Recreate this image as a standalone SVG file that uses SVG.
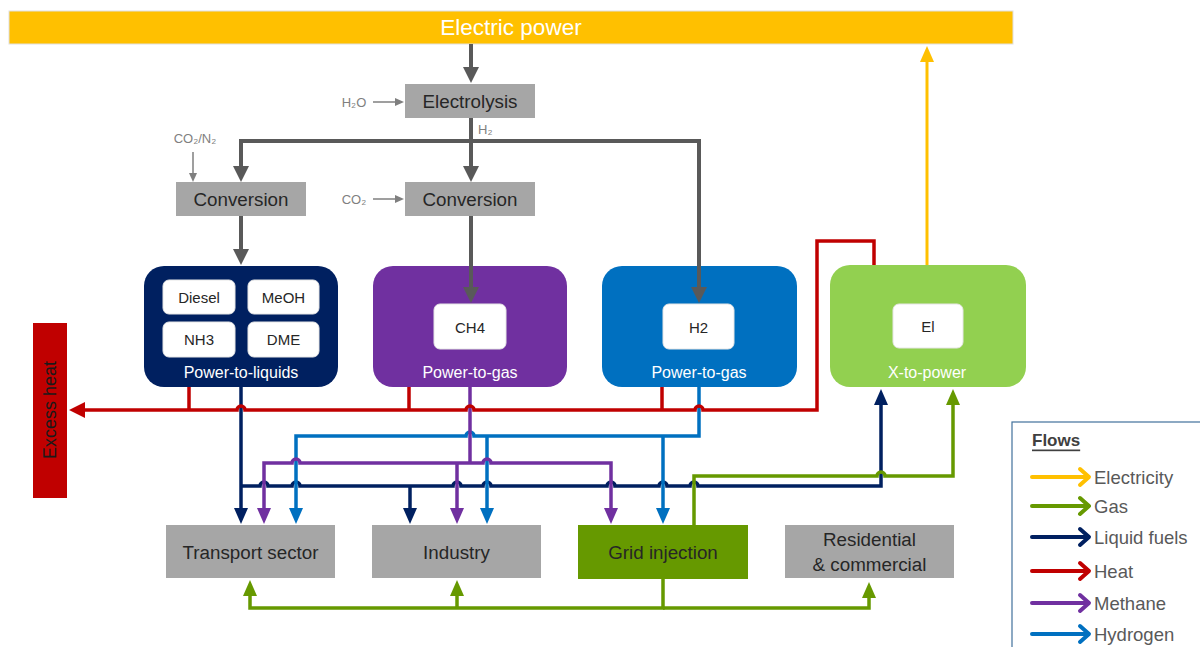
<svg xmlns="http://www.w3.org/2000/svg" width="1200" height="647" viewBox="0 0 1200 647">
<style>
text{font-family:"Liberation Sans",Arial,sans-serif;dominant-baseline:central;text-anchor:middle}
.t17{font-size:18.8px;fill:#262626}
.w{fill:#ffffff}
.in{font-size:15px;fill:#262626}
.lab{font-size:13px;fill:#7f7f7f}
.grey{fill:#A6A6A6}
.inner{fill:#ffffff;stroke:#e6e6e6;stroke-width:1}
.c{fill:none;stroke-linejoin:miter}
.g{stroke:#595959;stroke-width:4}
.tg{stroke:#7f7f7f;stroke-width:1.5}
.y{stroke:#FFC000;stroke-width:3}
.r{stroke:#C00000;stroke-width:3.5}
.n{stroke:#002060;stroke-width:3.5}
.p{stroke:#7030A0;stroke-width:3.5}
.b{stroke:#0070C0;stroke-width:3.5}
.gr{stroke:#669900;stroke-width:3.5}
.leg{fill:none;stroke-width:4;stroke-linecap:round;stroke-linejoin:round}
.lt{font-size:18.5px;fill:#595959;text-anchor:start}
.ptx{font-size:16px;fill:#ffffff}
</style>
<defs>
<marker id="aG" markerUnits="userSpaceOnUse" markerWidth="16" markerHeight="16" viewBox="0 0 16 16" refX="1" refY="8" orient="auto"><path d="M0,0 L16,8 L0,16z" fill="#595959"/></marker>
<marker id="aT" markerUnits="userSpaceOnUse" markerWidth="9" markerHeight="8" viewBox="0 0 9 8" refX="1" refY="4" orient="auto"><path d="M0,0 L9,4 L0,8z" fill="#7f7f7f"/></marker>
<marker id="aY" markerUnits="userSpaceOnUse" markerWidth="16" markerHeight="16" viewBox="0 0 16 16" refX="1" refY="8" orient="auto"><path d="M0,1 L16,8 L0,15z" fill="#FFC000"/></marker>
<marker id="aR" markerUnits="userSpaceOnUse" markerWidth="16" markerHeight="16" viewBox="0 0 16 16" refX="1" refY="8" orient="auto"><path d="M0,0 L16,8 L0,16z" fill="#C00000"/></marker>
<marker id="aN" markerUnits="userSpaceOnUse" markerWidth="16" markerHeight="16" viewBox="0 0 16 16" refX="1" refY="8" orient="auto"><path d="M0,1 L16,8 L0,15z" fill="#002060"/></marker>
<marker id="aP" markerUnits="userSpaceOnUse" markerWidth="16" markerHeight="16" viewBox="0 0 16 16" refX="1" refY="8" orient="auto"><path d="M0,1 L16,8 L0,15z" fill="#7030A0"/></marker>
<marker id="aB" markerUnits="userSpaceOnUse" markerWidth="16" markerHeight="16" viewBox="0 0 16 16" refX="1" refY="8" orient="auto"><path d="M0,1 L16,8 L0,15z" fill="#0070C0"/></marker>
<marker id="aGr" markerUnits="userSpaceOnUse" markerWidth="16" markerHeight="16" viewBox="0 0 16 16" refX="1" refY="8" orient="auto"><path d="M0,1 L16,8 L0,15z" fill="#669900"/></marker>
</defs>
<rect width="1200" height="647" fill="#ffffff"/>

<g id="electric-power">
<rect x="9" y="11" width="1004" height="33" fill="#FFC000" stroke="#e0e0e0" stroke-width="1"/>
<text x="511" y="27.5" class="w" style="font-size:22.5px">Electric power</text>
</g>
<g id="electrolysis">
<rect x="405" y="84" width="130" height="34" class="grey"/>
<text x="470" y="101" class="t17">Electrolysis</text>
</g>
<g id="conversion-1">
<rect x="176" y="182" width="130" height="34" class="grey"/>
<text x="241" y="199" class="t17">Conversion</text>
</g>
<g id="conversion-2">
<rect x="405" y="182" width="130" height="34" class="grey"/>
<text x="470" y="199" class="t17">Conversion</text>
</g>
<g id="labels">
<text x="354" y="102" class="lab">H₂O</text>
<text x="354" y="199" class="lab">CO₂</text>
<text x="195" y="138" class="lab">CO₂/N₂</text>
<text x="478" y="129" class="lab" style="text-anchor:start">H₂</text>
</g>

<g id="power-to-liquids">
<rect x="144" y="266" width="194" height="121" rx="20" fill="#002060"/>
<rect x="163" y="280" width="72" height="34" rx="6" class="inner"/>
<rect x="248" y="280" width="71" height="34" rx="6" class="inner"/>
<rect x="163" y="322" width="72" height="35" rx="6" class="inner"/>
<rect x="248" y="322" width="71" height="35" rx="6" class="inner"/>
<text x="199" y="297" class="in">Diesel</text>
<text x="283.5" y="297" class="in">MeOH</text>
<text x="199" y="339.5" class="in">NH3</text>
<text x="283.5" y="339.5" class="in">DME</text>
<text x="241" y="372" class="ptx">Power-to-liquids</text>
</g>
<g id="power-to-gas-ch4">
<rect x="373" y="266" width="194" height="121" rx="20" fill="#7030A0"/>
<rect x="434" y="304" width="72" height="45" rx="6" class="inner"/>
<text x="470" y="327" class="in">CH4</text>
<text x="470" y="372" class="ptx">Power-to-gas</text>
</g>
<g id="power-to-gas-h2">
<rect x="602" y="266" width="195" height="121" rx="20" fill="#0070C0"/>
<rect x="663" y="304" width="71" height="45" rx="6" class="inner"/>
<text x="698.5" y="327" class="in">H2</text>
<text x="699" y="372" class="ptx">Power-to-gas</text>
</g>
<g id="x-to-power">
<rect x="830" y="265" width="196" height="122" rx="20" fill="#92D050"/>
<rect x="893" y="304" width="70" height="44" rx="6" class="inner"/>
<text x="928" y="326" class="in">El</text>
<text x="927" y="372" class="ptx">X-to-power</text>
</g>
<g id="excess-heat">
<rect x="33" y="323" width="34" height="175" fill="#C00000"/>
<text x="0" y="0" transform="translate(50,410) rotate(-90)" style="font-size:18px;fill:#1a1a1a">Excess heat</text>
</g>
<g id="transport-sector">
<rect x="166" y="525" width="169" height="53" class="grey"/>
<text x="250.5" y="552" class="t17">Transport sector</text>
</g>
<g id="industry">
<rect x="372" y="525" width="169" height="53" class="grey"/>
<text x="456.5" y="552" class="t17">Industry</text>
</g>
<g id="grid-injection">
<rect x="578" y="525" width="170" height="54" fill="#669900"/>
<text x="663" y="552" class="t17">Grid injection</text>
</g>
<g id="residential-commercial">
<rect x="785" y="525" width="169" height="53" class="grey"/>
<text x="869.5" y="539" class="t17">Residential</text>
<text x="869.5" y="564" class="t17">&amp; commercial</text>
</g>

<g id="connectors">
<path class="c g" d="M471 44 V68" marker-end="url(#aG)"/>
<path class="c g" d="M471 118 V167" marker-end="url(#aG)"/>
<path class="c g" d="M471 141 H241 V167" marker-end="url(#aG)"/>
<path class="c g" d="M471 141 H699 V288" marker-end="url(#aG)"/>
<path class="c g" d="M241 216 V250" marker-end="url(#aG)"/>
<path class="c g" d="M471 216 V288" marker-end="url(#aG)"/>
<path class="c tg" d="M373 102 H396" marker-end="url(#aT)"/>
<path class="c tg" d="M373 199 H396" marker-end="url(#aT)"/>
<path class="c tg" d="M193 152 V174" marker-end="url(#aT)"/>

<path class="c y" d="M927 265 V61" marker-end="url(#aY)"/>

<path class="c n" d="M241 387 V509" marker-end="url(#aN)"/>
<path class="c n" d="M241 486 H260 A4 4 0 0 1 268 486 H292 A4 4 0 0 1 300 486 H453 A4 4 0 0 1 461 486 H483 A4 4 0 0 1 491 486 H607 A4 4 0 0 1 615 486 H659 A4 4 0 0 1 667 486 H690 A4 4 0 0 1 698 486 H881 V404" marker-end="url(#aN)"/>
<path class="c n" d="M410 486 V509" marker-end="url(#aN)"/>

<path class="c b" d="M699 387 V436 H474 A4 4 0 0 0 466 436 H296 V509" marker-end="url(#aB)"/>
<path class="c b" d="M487 436 V509" marker-end="url(#aB)"/>
<path class="c b" d="M663 436 V509" marker-end="url(#aB)"/>

<path class="c p" d="M470 387 V463"/>
<path class="c p" d="M470 463 H300 A4 4 0 0 0 292 463 H264 V509" marker-end="url(#aP)"/>
<path class="c p" d="M470 463 H483 A4 4 0 0 1 491 463 H611 V509" marker-end="url(#aP)"/>
<path class="c p" d="M457 463 V509" marker-end="url(#aP)"/>

<path class="c r" d="M189 387 V410 M409 387 V410 M662 387 V410"/>
<path class="c r" d="M874 265 V241 H817 V410 H703 A4 4 0 0 0 695 410 H474 A4 4 0 0 0 466 410 H245 A4 4 0 0 0 237 410 H84" marker-end="url(#aR)"/>

<path class="c gr" d="M694 525 V476 H877 A4 4 0 0 1 885 476 H953 V404" marker-end="url(#aGr)"/>
<path class="c gr" d="M663 579 V608 H250 V595" marker-end="url(#aGr)"/>
<path class="c gr" d="M457 608 V595" marker-end="url(#aGr)"/>
<path class="c gr" d="M663 608 H869 V597" marker-end="url(#aGr)"/>
</g>

<g id="legend">
<rect x="1012" y="422" width="200" height="240" fill="#ffffff" stroke="#41719C" stroke-width="1.2"/>
<text x="1032" y="440" style="font-size:17px;font-weight:bold;fill:#404040;text-anchor:start;text-decoration:underline">Flows</text>
<path class="leg" stroke="#FFC000" d="M1032 477 H1088 M1080 469 L1089 477 L1080 485"/>
<text x="1094" y="477" class="lt">Electricity</text>
<path class="leg" stroke="#669900" d="M1032 506 H1088 M1080 498 L1089 506 L1080 514"/>
<text x="1094" y="506" class="lt">Gas</text>
<path class="leg" stroke="#002060" d="M1032 537 H1088 M1080 529 L1089 537 L1080 545"/>
<text x="1094" y="537" class="lt">Liquid fuels</text>
<path class="leg" stroke="#C00000" d="M1032 571 H1088 M1080 563 L1089 571 L1080 579"/>
<text x="1094" y="571" class="lt">Heat</text>
<path class="leg" stroke="#7030A0" d="M1032 603 H1088 M1080 595 L1089 603 L1080 611"/>
<text x="1094" y="603" class="lt">Methane</text>
<path class="leg" stroke="#0070C0" d="M1032 634 H1088 M1080 626 L1089 634 L1080 642"/>
<text x="1094" y="634" class="lt">Hydrogen</text>
</g>
</svg>
